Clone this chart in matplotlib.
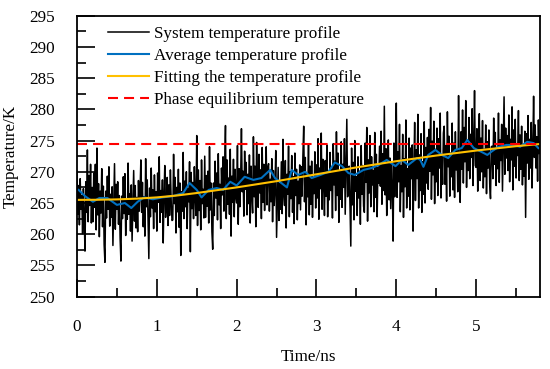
import numpy as np
import matplotlib
matplotlib.use("Agg")
import matplotlib.pyplot as plt
from matplotlib.ticker import MultipleLocator

plt.rcParams['font.family'] = ['Liberation Serif', 'DejaVu Serif']
plt.rcParams['font.size'] = 12.3

# ---- system temperature profile (K), sampled every 0.01 ns ----
dt = 0.01
system_temp = [
    270.1, 263.2, 267.8, 261.5, 268.9, 264.0, 266.2, 260.1, 267.3, 262.8, 257.3, 268.4, 263.5, 273.5, 262.0, 269.4, 264.6, 271.2, 261.8, 267.5,
    262.0, 269.8, 264.3, 271.2, 260.7, 273.8, 263.1, 268.1, 259.6, 266.9, 263.4, 270.5, 261.2, 267.7, 258.3, 255.5, 266.9, 262.6, 269.3, 264.0,
    270.8, 261.3, 266.4, 262.7, 267.6, 258.2, 264.9, 271.3, 260.8, 268.0, 264.0, 268.4, 261.6, 266.2, 259.4, 255.7, 266.1, 262.5, 269.2, 263.3,
    269.7, 259.8, 265.6, 262.4, 271.4, 263.2, 266.5, 260.5, 267.9, 258.9, 264.8, 270.2, 262.1, 267.8, 261.0, 265.9, 260.4, 268.6, 263.7, 266.8,
    271.9, 263.5, 268.3, 261.2, 266.0, 259.7, 272.1, 264.4, 268.7, 262.0, 256.1, 267.4, 262.8, 270.6, 264.2, 267.1, 260.9, 269.5, 263.6, 266.8,
    260.5, 269.8, 265.1, 272.4, 261.9, 267.0, 263.5, 268.7, 258.6, 266.4, 271.0, 262.7, 264.6, 269.1, 261.4, 267.9, 263.0, 270.3, 265.3, 262.2,
    262.3, 272.8, 264.9, 269.1, 260.2, 267.5, 263.6, 270.4, 261.1, 268.2, 256.6, 266.8, 263.7, 273.1, 262.5, 268.5, 264.4, 270.0, 260.9, 267.3,
    265.2, 271.6, 257.2, 269.9, 264.1, 268.3, 262.5, 270.8, 265.7, 263.0, 275.8, 261.4, 270.3, 263.8, 268.6, 260.7, 271.9, 264.9, 267.2, 262.6,
    272.5, 262.7, 269.4, 264.5, 270.1, 261.8, 274.0, 263.9, 268.2, 260.4, 257.6, 268.2, 263.0, 271.7, 265.8, 269.8, 262.3, 272.9, 264.7, 268.0,
    260.9, 270.6, 266.3, 272.4, 263.7, 271.2, 277.4, 262.5, 271.9, 264.8, 269.0, 263.2, 273.6, 259.7, 269.3, 265.1, 272.0, 262.8, 270.4, 266.1,
    265.0, 274.2, 261.6, 270.5, 264.4, 268.8, 276.9, 266.8, 270.1, 262.9, 273.3, 267.2, 271.5, 263.1, 269.6, 264.9, 272.7, 261.8, 270.9, 266.3,
    263.4, 275.6, 266.0, 270.9, 261.2, 274.7, 268.0, 264.3, 272.8, 266.6, 270.3, 262.5, 273.9, 265.1, 271.2, 263.8, 269.4, 274.0, 264.7, 270.6,
    271.3, 263.7, 268.8, 265.2, 272.1, 262.0, 270.2, 264.6, 267.4, 273.4, 259.5, 265.5, 270.7, 262.2, 268.1, 264.0, 271.6, 263.3, 275.2, 266.4,
    264.6, 271.8, 261.0, 269.6, 266.4, 274.1, 262.8, 270.0, 265.7, 272.6, 263.5, 269.2, 261.7, 273.0, 266.2, 270.4, 262.3, 268.5, 264.9, 271.1,
    263.9, 270.8, 266.1, 272.6, 277.3, 265.2, 272.3, 261.5, 269.7, 266.0, 274.4, 263.1, 270.9, 264.8, 271.7, 262.7, 268.9, 266.5, 273.2, 264.2,
    271.1, 265.8, 275.3, 262.4, 270.6, 267.3, 276.2, 264.0, 272.0, 268.4, 263.0, 271.8, 266.1, 274.3, 262.8, 269.7, 265.5, 273.1, 267.0, 270.4,
    262.6, 274.5, 267.9, 271.7, 263.8, 276.4, 266.2, 273.0, 261.9, 270.0, 265.6, 274.8, 264.3, 271.2, 267.5, 275.3, 263.2, 270.8, 278.4, 266.0,
    266.5, 270.9, 264.1, 258.1, 273.8, 264.7, 271.5, 262.3, 275.0, 266.9, 269.2, 263.0, 272.4, 265.8, 270.1, 261.6, 274.2, 266.4, 271.0, 264.5,
    263.5, 274.6, 268.3, 277.1, 262.1, 271.9, 266.6, 275.8, 264.4, 272.4, 267.9, 270.2, 263.6, 276.3, 265.9, 272.8, 262.8, 270.7, 268.2, 274.1,
    267.7, 276.5, 264.8, 272.9, 267.0, 280.5, 266.3, 273.7, 263.0, 270.4, 275.1, 265.5, 272.2, 264.1, 271.6, 267.4, 258.9, 274.6, 266.0, 272.3,
    281.0, 265.9, 273.2, 268.4, 277.6, 263.6, 271.0, 266.8, 276.0, 262.7, 272.1, 267.6, 278.3, 264.2, 270.5, 266.1, 275.4, 263.9, 273.8, 268.9,
    274.3, 260.5, 270.3, 277.9, 265.4, 273.5, 268.9, 279.2, 264.2, 272.7, 267.0, 276.1, 263.5, 271.6, 266.4, 278.0, 265.0, 273.9, 268.2, 275.5,
    267.2, 276.8, 270.1, 280.3, 265.6, 274.9, 269.5, 278.1, 264.9, 273.6, 268.4, 277.0, 266.2, 275.3, 270.6, 279.4, 265.8, 272.5, 268.0, 276.2,
    277.3, 268.0, 274.2, 265.3, 279.6, 270.8, 275.7, 266.1, 273.0, 269.2, 277.8, 267.1, 274.6, 265.9, 276.4, 270.3, 273.5, 266.8, 282.2, 269.6,
    265.1, 276.4, 270.4, 279.9, 268.2, 277.1, 271.6, 281.4, 267.5, 275.0, 270.2, 278.7, 268.9, 276.0, 272.3, 280.1, 267.8, 274.4, 283.0, 271.0,
    270.7, 276.9, 266.9, 274.6, 279.3, 268.6, 275.4, 270.0, 278.2, 267.4, 273.6, 269.2, 277.5, 266.5, 274.8, 270.6, 276.7, 268.1, 265.7, 274.0,
    274.1, 268.9, 278.6, 271.2, 276.3, 267.8, 273.9, 270.5, 279.4, 268.3, 275.1, 271.8, 277.6, 266.9, 274.7, 282.0, 269.6, 277.0, 272.2, 275.8,
    270.2, 279.1, 268.4, 275.2, 271.9, 280.4, 267.1, 276.7, 270.9, 278.4, 269.0, 274.5, 272.6, 279.8, 268.6, 275.9, 270.4, 277.3, 267.9, 274.0,
    269.3, 276.5, 262.7, 276.1, 271.4, 279.0, 268.8, 275.2, 270.6, 277.9, 267.4, 273.8, 282.1, 272.3, 277.5, 270.6, 275.6, 268.5, 278.3, 272.9,
    274.8,
]
system_time = np.arange(len(system_temp)) * dt

# ---- average temperature profile ----
avg_time = [0.02, 0.10, 0.20, 0.28, 0.38, 0.50, 0.60, 0.68, 0.76, 0.84,
            0.95, 1.07, 1.20, 1.33, 1.41, 1.45, 1.50, 1.56, 1.65, 1.75,
            1.83, 1.92, 2.00, 2.10, 2.21, 2.31, 2.42, 2.48, 2.56, 2.63,
            2.69, 2.77, 2.86, 2.94, 3.05, 3.15, 3.23, 3.32, 3.40, 3.48,
            3.59, 3.69, 3.78, 3.88, 3.99, 4.07, 4.15, 4.26, 4.30, 4.34,
            4.40, 4.49, 4.57, 4.65, 4.74, 4.82, 4.89, 4.97, 5.05, 5.14,
            5.20, 5.28, 5.38, 5.47, 5.55, 5.64, 5.72, 5.78]
avg_temp = [267.1, 266.1, 265.2, 265.8, 265.8, 264.7, 265.0, 264.2, 265.2, 265.9,
            265.6, 265.9, 266.1, 266.6, 268.2, 267.7, 267.1, 265.9, 267.1, 267.4,
            267.1, 268.4, 267.8, 269.2, 268.7, 269.0, 270.3, 269.0, 268.2, 267.5,
            270.3, 269.5, 270.0, 269.0, 269.5, 270.0, 271.5, 270.9, 269.8, 269.5,
            270.3, 270.6, 271.1, 271.9, 270.9, 271.9, 271.1, 272.2, 271.9, 270.8,
            272.7, 273.5, 272.7, 272.2, 273.5, 273.8, 275.1, 273.8, 273.3, 272.7,
            273.3, 274.0, 274.3, 274.3, 274.0, 274.8, 274.6, 273.8]

# ---- fitted temperature profile ----
fit_time = [0.0, 0.25, 0.5, 0.75, 1.0, 1.25, 1.5, 1.75, 2.0, 2.25, 2.5, 2.75,
            3.0, 3.25, 3.5, 3.75, 4.0, 4.25, 4.5, 4.75, 5.0, 5.25, 5.5, 5.8]
fit_temp = [265.50, 265.52, 265.58, 265.70, 265.90, 266.20, 266.60, 267.05,
            267.50, 268.00, 268.50, 269.05, 269.60, 270.15, 270.70, 271.20,
            271.70, 272.15, 272.60, 273.00, 273.40, 273.75, 274.10, 274.45]

# ---- phase equilibrium temperature ----
phase_eq_temp = 274.5

fig = plt.figure(figsize=(5.5, 3.69), dpi=100)
ax = fig.add_axes([0.14, 0.196, 0.8418, 0.7615])

ax.plot(system_time, system_temp, color='black', lw=1.1,
        label='System temperature profile')
ax.plot(avg_time, avg_temp, color='#0070C0', lw=1.5,
        label='Average temperature profile')
ax.plot(fit_time, fit_temp, color='#FFC000', lw=1.5,
        label='Fitting the temperature profile')
ax.axhline(phase_eq_temp, color='#FF0000', lw=1.5, dashes=(4.8, 2.9),
           label='Phase equilibrium temperature')

ax.set_xlim(0, 5.8)
ax.set_ylim(250, 295)
ax.xaxis.set_major_locator(MultipleLocator(1))
ax.xaxis.set_minor_locator(MultipleLocator(0.5))
ax.yaxis.set_major_locator(MultipleLocator(5))
ax.yaxis.set_minor_locator(MultipleLocator(2.5))
ax.tick_params(which='both', direction='in', width=1.2)
ax.tick_params(which='major', length=13, pad=16)
ax.tick_params(which='minor', length=6.5)
for s in ax.spines.values():
    s.set_linewidth(1.3)

ax.set_xlabel('Time/ns')
ax.set_ylabel('Temperature/K')
ax.xaxis.set_label_coords(0.5, -0.186)
ax.yaxis.set_label_coords(-0.125, 0.5)

ax.legend(loc='upper left', bbox_to_anchor=(0.067, 0.962), frameon=False,
          borderpad=0, borderaxespad=0, handlelength=2.4,
          handletextpad=0.3, labelspacing=0.34)

fig.savefig('out.png', dpi=100)
